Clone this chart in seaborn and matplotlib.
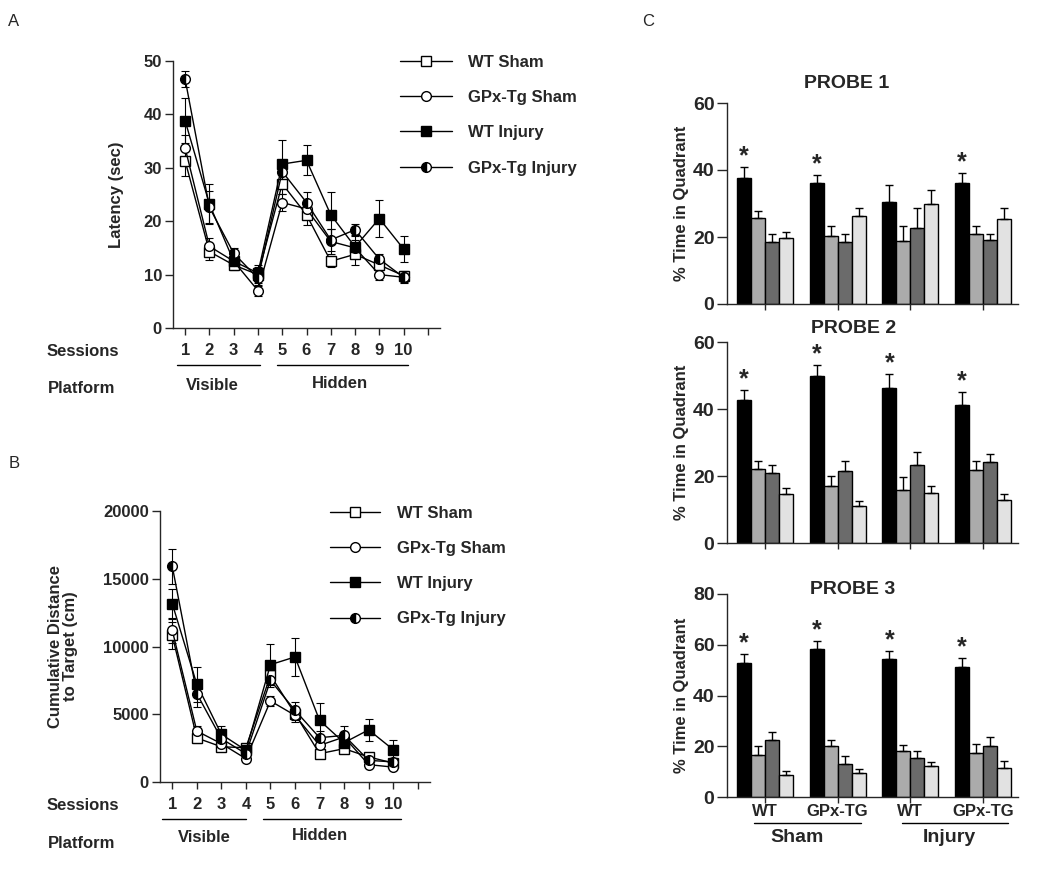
import numpy as np
import pandas as pd
import matplotlib.pyplot as plt
import seaborn as sns
from matplotlib.container import BarContainer

# ===============================
# Style
# ===============================
sns.set_style("ticks")
plt.rcParams["font.family"] = ["Liberation Sans", "DejaVu Sans"]
plt.rcParams["font.weight"] = "bold"
plt.rcParams["axes.labelweight"] = "bold"
plt.rcParams["axes.linewidth"] = 1.0
plt.rcParams["xtick.major.width"] = 1.0
plt.rcParams["ytick.major.width"] = 1.0

# ===============================
# Data
# ===============================
sessions = list(range(1, 11))
session_ticks = list(range(1, 12))
session_labels = [str(s) for s in sessions] + [""]
line_groups = ["WT Sham", "GPx-Tg Sham", "WT Injury", "GPx-Tg Injury"]

# Panel A - latency (sec)
lat_wt_sham = [31.3, 14.3, 11.8, 10.0, 27.0, 21.2, 12.5, 13.8, 11.8, 9.8]
lat_gpx_sham = [33.7, 15.3, 12.5, 7.0, 23.5, 22.3, 16.2, 15.0, 10.0, 9.5]
lat_wt_inj = [38.8, 23.2, 12.5, 10.3, 30.7, 31.4, 21.2, 15.2, 20.5, 14.8]
lat_gpx_inj = [46.6, 22.6, 14.0, 9.3, 29.3, 23.5, 16.5, 18.4, 12.9, 9.5]
lat_wt_sham_err = [2.8, 1.5, 1.0, 1.5, 2.0, 2.0, 1.0, 2.0, 1.5, 0.8]
lat_gpx_sham_err = [2.5, 1.5, 1.0, 1.0, 1.5, 1.5, 2.3, 1.5, 1.0, 0.8]
lat_wt_inj_err = [4.2, 3.8, 1.0, 1.5, 4.5, 2.8, 4.3, 2.0, 3.5, 2.5]
lat_gpx_inj_err = [1.5, 3.0, 1.0, 1.5, 2.0, 2.0, 2.0, 1.0, 1.0, 1.0]

# Panel B - cumulative distance to target (cm)
dist_wt_sham = [10820, 3250, 2600, 2530, 7870, 5040, 2090, 2460, 1850, 1400]
dist_gpx_sham = [11190, 3760, 2830, 1720, 5980, 4920, 2700, 3320, 1280, 1100]
dist_wt_inj = [13160, 7210, 3520, 2340, 8660, 9230, 4550, 2900, 3850, 2390]
dist_gpx_inj = [15920, 6520, 3200, 2090, 7500, 5290, 3270, 3440, 1600, 1480]
dist_wt_sham_err = [1000, 400, 300, 300, 600, 500, 300, 300, 300, 300]
dist_gpx_sham_err = [900, 400, 300, 200, 400, 500, 400, 300, 200, 200]
dist_wt_inj_err = [1100, 1300, 600, 300, 1500, 1400, 1300, 600, 800, 700]
dist_gpx_inj_err = [1300, 1000, 500, 300, 500, 600, 500, 700, 300, 300]

# Panel C - % time in quadrant, rows = groups, cols = quadrants
probe_groups = ["WT Sham", "GPx-TG Sham", "WT Injury", "GPx-TG Injury"]
probe_xlabels = ["WT", "GPx-TG", "WT", "GPx-TG"]
quadrants = ["Q1", "Q2", "Q3", "Q4"]
bar_colors = ["#000000", "#ababab", "#6b6b6b", "#e2e2e2"]

probe1_mean = [[37.5, 25.6, 18.5, 19.6], [36.2, 20.3, 18.4, 26.3],
               [30.3, 18.7, 22.8, 29.9], [36.0, 20.9, 19.0, 25.3]]
probe1_err = [[3.3, 2.2, 2.5, 2.0], [2.3, 3.0, 2.5, 2.5],
              [5.3, 4.5, 6.0, 4.0], [3.0, 2.3, 2.0, 3.5]]
probe1_star = [True, True, False, True]

probe2_mean = [[42.8, 22.1, 20.9, 14.6], [50.0, 16.9, 21.6, 10.9],
               [46.3, 15.7, 23.4, 14.8], [41.1, 21.9, 24.1, 12.7]]
probe2_err = [[2.8, 2.3, 2.4, 1.8], [3.1, 3.0, 2.8, 1.5],
              [4.2, 4.0, 3.8, 2.3], [3.9, 2.5, 2.6, 1.9]]
probe2_star = [True, True, True, True]

probe3_mean = [[53.0, 16.7, 22.4, 8.7], [58.2, 20.0, 13.2, 9.5],
               [54.3, 18.2, 15.4, 12.1], [51.1, 17.5, 20.2, 11.6]]
probe3_err = [[3.3, 3.3, 3.2, 1.4], [3.3, 2.4, 2.9, 1.4],
              [3.3, 2.2, 2.6, 1.7], [3.8, 3.4, 3.3, 2.4]]
probe3_star = [True, True, True, True]

# ===============================
# Figure layout (pixel helpers)
# ===============================
W, H = 1050, 880


def fx(x):
    return x / W


def fy(y):
    return 1 - y / H


fig = plt.figure(figsize=(10.5, 8.8), dpi=100)
axA = fig.add_axes([fx(173), fy(328), 267 / W, 267 / H])
axB = fig.add_axes([fx(160), fy(782), 270 / W, 271 / H])
axP1 = fig.add_axes([fx(727), fy(304), 291 / W, 201 / H])
axP2 = fig.add_axes([fx(727), fy(543), 291 / W, 201 / H])
axP3 = fig.add_axes([fx(727), fy(797), 291 / W, 203 / H])

marker_styles = {
    "WT Sham": dict(marker="s", markerfacecolor="white"),
    "GPx-Tg Sham": dict(marker="o", markerfacecolor="white"),
    "WT Injury": dict(marker="s", markerfacecolor="black"),
    "GPx-Tg Injury": dict(marker="o", markerfacecolor="black",
                          fillstyle="left", markerfacecoloralt="white"),
}


def session_panel(ax, means, errs, ymax, ystep):
    for name, m, e in zip(line_groups, means, errs):
        ax.errorbar(sessions, m, yerr=e, fmt="none", ecolor="black",
                    elinewidth=0.8, capsize=3, capthick=0.8, zorder=1)
        sns.lineplot(x=sessions, y=m, ax=ax, color="black", linewidth=1,
                     markersize=7, markeredgecolor="black", markeredgewidth=1,
                     label=name, legend=False, zorder=3, errorbar=None,
                     **marker_styles[name])
    ax.set_xlim(0.5, 11.5)
    ax.set_ylim(0, ymax)
    ax.set_yticks(np.arange(0, ymax + 1, ystep))
    ax.set_xticks(session_ticks)
    ax.set_xticklabels(session_labels)
    ax.tick_params(axis="x", length=5, pad=6, labelsize=12)
    ax.tick_params(axis="y", length=6, pad=2, labelsize=12)
    sns.despine(ax=ax)


# ===============================
# Panel A
# ===============================
session_panel(axA, [lat_wt_sham, lat_gpx_sham, lat_wt_inj, lat_gpx_inj],
              [lat_wt_sham_err, lat_gpx_sham_err, lat_wt_inj_err, lat_gpx_inj_err],
              50, 10)
axA.set_ylabel("Latency (sec)", fontsize=12, va="center")
axA.yaxis.set_label_coords(-0.21, 0.5)
axA.legend(loc="upper left", bbox_to_anchor=(fx(400), fy(55)),
           bbox_transform=fig.transFigure, frameon=False, numpoints=1,
           handlelength=3.1, handletextpad=1.0, labelspacing=1.21,
           borderpad=0, borderaxespad=0, prop={"weight": "bold", "size": 12})

# ===============================
# Panel B
# ===============================
session_panel(axB, [dist_wt_sham, dist_gpx_sham, dist_wt_inj, dist_gpx_inj],
              [dist_wt_sham_err, dist_gpx_sham_err, dist_wt_inj_err, dist_gpx_inj_err],
              20000, 5000)
axB.set_ylabel("Cumulative Distance\nto Target (cm)", fontsize=12, va="center",
               linespacing=0.95)
axB.yaxis.set_label_coords(-0.36, 0.5)
axB.legend(loc="upper left", bbox_to_anchor=(fx(330), fy(506)),
           bbox_transform=fig.transFigure, frameon=False, numpoints=1,
           handlelength=3.0, handletextpad=1.0, labelspacing=1.21,
           borderpad=0, borderaxespad=0, prop={"weight": "bold", "size": 12})

# Sessions / Platform annotations under A and B
for ax, y_sess, y_line, y_vis, y_plat, vis_span, hid_span, vis_x, hid_x in [
        (axA, 351, 365, 385, 388, (0.67, 4.07), (4.77, 10.2), 212, 340),
        (axB, 805, 819, 837, 843, (0.59, 4.02), (4.71, 10.3), 204, 320)]:
    fig.text(fx(83), fy(y_sess), "Sessions", ha="center", va="center", fontsize=12)
    fig.text(fx(82), fy(y_plat), "Platform", ha="center", va="center", fontsize=12)
    fig.text(fx(vis_x), fy(y_vis), "Visible", ha="center", va="center", fontsize=12)
    fig.text(fx(hid_x), fy(y_vis - 2), "Hidden", ha="center", va="center", fontsize=12)
    trans = ax.get_xaxis_transform()
    y_ax = (fig.transFigure + ax.transAxes.inverted()).transform((0, fy(y_line)))[1]
    for span in (vis_span, hid_span):
        ax.plot(span, [y_ax, y_ax], color="black", linewidth=1,
                transform=trans, clip_on=False)

# ===============================
# Panel C - probe bar charts
# ===============================


def probe_panel(ax, means, errs, stars, ymax, title, title_xy, labels):
    df = pd.DataFrame([(g, q, means[i][j])
                       for i, g in enumerate(probe_groups)
                       for j, q in enumerate(quadrants)],
                      columns=["group", "quadrant", "value"])
    sns.barplot(data=df, x="group", y="value", hue="quadrant", ax=ax,
                palette=bar_colors, saturation=1, errorbar=None, width=0.77,
                edgecolor="black", linewidth=1, legend=False)
    bars = [c for c in ax.containers if isinstance(c, BarContainer)]
    for j, cont in enumerate(bars):
        for i, p in enumerate(cont.patches):
            xc = p.get_x() + p.get_width() / 2
            top = p.get_height()
            ax.errorbar(xc, top, yerr=[[0], [errs[i][j]]], fmt="none",
                        ecolor="black", elinewidth=1, capsize=3, capthick=1)
            if j == 0 and stars[i]:
                ax.annotate("*", (xc, top + errs[i][j]), xytext=(0, -1),
                            textcoords="offset points", ha="center",
                            va="bottom", fontsize=18, fontweight="bold")
    ax.set_xlim(-0.52, 3.48)
    ax.set_ylim(0, ymax)
    ax.set_yticks(np.arange(0, ymax + 1, 20))
    ax.set_xlabel("")
    ax.set_ylabel("% Time in Quadrant", fontsize=12, va="center")
    ax.yaxis.set_label_coords(-0.155, 0.5)
    ax.tick_params(axis="y", length=7, pad=2, labelsize=14)
    ax.set_xticks(range(4))
    if labels:
        ax.set_xticklabels(probe_xlabels)
        ax.tick_params(axis="x", length=4, pad=1, labelsize=12)
    else:
        ax.set_xticklabels([])
        ax.tick_params(axis="x", length=4)
    sns.despine(ax=ax)
    fig.text(fx(title_xy[0]), fy(title_xy[1]), title, ha="center",
             va="center", fontsize=14)


probe_panel(axP1, probe1_mean, probe1_err, probe1_star, 60, "PROBE 1", (847, 83), False)
probe_panel(axP2, probe2_mean, probe2_err, probe2_star, 60, "PROBE 2", (854, 328), False)
probe_panel(axP3, probe3_mean, probe3_err, probe3_star, 80, "PROBE 3", (853, 590), True)

# Sham / Injury brackets
trans3 = axP3.get_xaxis_transform()
axP3.plot([-0.15, 1.32], [-0.128, -0.128], color="black", linewidth=1,
          transform=trans3, clip_on=False)
axP3.plot([1.88, 3.34], [-0.128, -0.128], color="black", linewidth=1,
          transform=trans3, clip_on=False)
axP3.text(0.44, -0.2, "Sham", transform=trans3, ha="center", va="center", fontsize=14)
axP3.text(2.54, -0.2, "Injury", transform=trans3, ha="center", va="center", fontsize=14)

# Panel letters
fig.text(fx(14), fy(22), "A", ha="center", va="center", fontsize=12, fontweight="normal")
fig.text(fx(14), fy(463), "B", ha="center", va="center", fontsize=12, fontweight="normal")
fig.text(fx(648), fy(22), "C", ha="center", va="center", fontsize=12, fontweight="normal")

fig.savefig("out.png", dpi=100, facecolor="white")
